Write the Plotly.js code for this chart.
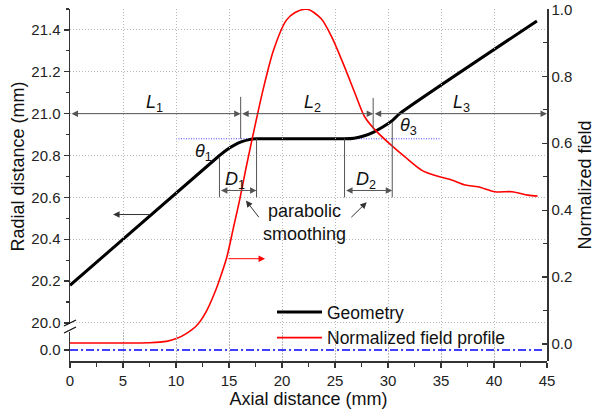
<!DOCTYPE html>
<html>
<head>
<meta charset="utf-8">
<script src="https://cdn.plot.ly/plotly-3.0.1.min.js"></script>
<style>
  html, body { margin: 0; padding: 0; background: #fff; }
  #chart { width: 595px; height: 412px; }
</style>
</head>
<body>
<div id="chart"></div>
<script>
// ---- data ----
const geomX = [0, 14.1, 14.8, 15.5, 16.2, 16.9, 17.6, 25.9, 26.8, 27.7, 28.6, 29.5, 30.4, 31.1, 44.05];
const geomR = [20.18, 20.80, 20.828, 20.850, 20.866, 20.876, 20.880, 20.880, 20.883, 20.893, 20.911, 20.936, 20.967, 21.0, 21.443];

const fieldX = [0, 5, 7.5, 9.1, 10.1, 11.0, 12.0, 12.9, 13.8, 14.3, 14.8, 15.4, 16.0, 16.6, 17.2, 18.2, 19.2, 20.4, 21.2, 22.4,
                23.7, 24.7, 25.9, 26.9, 27.8, 28.8, 30.3, 31.6, 33.2, 34.4, 36.0, 37.3, 38.5, 40.1, 41.7, 43.2, 44.1];
const fieldY = [0.003, 0.003, 0.004, 0.008, 0.017, 0.032, 0.057, 0.10, 0.165, 0.21, 0.26, 0.345, 0.43, 0.525, 0.615, 0.758, 0.878, 0.967, 0.99, 1.0,
                0.972, 0.917, 0.828, 0.748, 0.679, 0.639, 0.594, 0.559, 0.519, 0.504, 0.49, 0.475, 0.47, 0.455, 0.455, 0.445, 0.442];

const refLevelX = [10, 35];
const refLevelR = [20.88, 20.88];
const axisLineX = [0, 44.8];
const axisLineR = [0, 0];

const xTicks = [0, 5, 10, 15, 20, 25, 30, 35, 40, 45];
const seriesNames = ['Geometry', 'Normalized field profile'];

// ---- styling ----
const FONT = '"Liberation Sans", Arial, Helvetica, sans-serif';
const AX = '#333';
const GRID = '#b8b8b8';
const DIM = '#555';

const traces = [
  { x: refLevelX, y: refLevelR, xaxis: 'x', yaxis: 'y', mode: 'lines', showlegend: false, hoverinfo: 'skip',
    line: { color: '#4444ff', width: 1, dash: '1px,1.5px' } },
  { x: geomX, y: geomR, xaxis: 'x', yaxis: 'y', mode: 'lines', name: seriesNames[0],
    line: { color: '#000', width: 3, shape: 'spline', smoothing: 0.6 } },
  { x: fieldX, y: fieldY, xaxis: 'x', yaxis: 'y2', mode: 'lines', name: seriesNames[1],
    line: { color: '#ff0000', width: 1.6, shape: 'spline', smoothing: 0.8 } },
  { x: axisLineX, y: axisLineR, xaxis: 'x', yaxis: 'y3', mode: 'lines', showlegend: false, hoverinfo: 'skip',
    line: { color: '#0000ff', width: 1.5, dash: '8px,3px,2px,3px' } }
];

function dimArrow(x0, y0, x1, y1, both, color) {
  return {
    x: x1, y: y1, ax: x0, ay: y0, xref: 'x', yref: 'y', axref: 'x', ayref: 'y',
    text: '', showarrow: true, arrowhead: 2, startarrowhead: 2, arrowsize: 1.3, startarrowsize: 1.3,
    arrowwidth: 1, arrowcolor: color || DIM, arrowside: both ? 'end+start' : 'end',
    standoff: 0, startstandoff: 0
  };
}
function label(x, y, text, size) {
  return { x: x, y: y, xref: 'x', yref: 'y', text: text, showarrow: false,
           font: { family: FONT, size: size || 18, color: '#111' }, xanchor: 'center', yanchor: 'middle' };
}
function vline(x, y0, y1) {
  return { type: 'line', xref: 'x', yref: 'y', x0: x, x1: x, y0: y0, y1: y1,
           line: { color: DIM, width: 1 } };
}
const pxX = p => (p - 70) / 477;
const pxY = p => (361 - p) / 352;
function slash(cy) {
  return { type: 'line', xref: 'paper', yref: 'paper', x0: pxX(64), x1: pxX(76), y0: pxY(cy + 3), y1: pxY(cy - 3),
           line: { color: '#111', width: 1.3 } };
}

const annotations = [
  dimArrow(0, 21.0, 16.1, 21.0, true),
  dimArrow(16.1, 21.0, 28.6, 21.0, true),
  dimArrow(28.6, 21.0, 45, 21.0, true),
  dimArrow(14.1, 20.633, 17.6, 20.633, true),
  dimArrow(25.9, 20.633, 30.4, 20.633, true),
  dimArrow(17.92, 20.498, 16.6, 20.585, false, '#333'),
  dimArrow(26.4, 20.498, 27.99, 20.577, false, '#333'),
  dimArrow(7.7, 20.518, 4.06, 20.518, false, '#333'),
  dimArrow(14.8, 20.307, 18.4, 20.307, false, '#ff0000'),
  label(8.0, 21.05, '<i>L</i><sub>1</sub>'),
  label(22.9, 21.05, '<i>L</i><sub>2</sub>'),
  label(36.9, 21.05, '<i>L</i><sub>3</sub>'),
  label(12.6, 20.814, '<i>θ</i><sub>1</sub>'),
  label(31.9, 20.939, '<i>θ</i><sub>3</sub>'),
  label(15.6, 20.68, '<i>D</i><sub>1</sub>'),
  label(27.9, 20.68, '<i>D</i><sub>2</sub>'),
  label(22.1, 20.482, 'parabolic<br>smoothing')
];

const shapes = [
  vline(16.1, 20.88, 21.08),
  vline(28.6, 20.925, 21.075),
  vline(14.1, 20.79, 20.60),
  vline(17.6, 20.88, 20.60),
  vline(25.9, 20.88, 20.60),
  vline(30.4, 20.96, 20.60),
  slash(323),
  slash(330)
];

const axBase = {
  showline: true, linecolor: AX, linewidth: 1.5, zeroline: false, tickcolor: AX, tickwidth: 1.2,
  tickfont: { family: FONT, size: 15, color: '#222' }
};

const layout = {
  width: 595, height: 412,
  margin: { l: 70, r: 48, t: 9, b: 51, pad: 0 },
  paper_bgcolor: '#fff', plot_bgcolor: 'rgba(0,0,0,0)',
  font: { family: FONT, size: 15, color: '#222' },
  showlegend: true,
  legend: { x: pxX(272), y: pxY(294), xanchor: 'left', yanchor: 'top', bgcolor: 'rgba(0,0,0,0)',
            font: { family: FONT, size: 17.5, color: '#111' }, itemwidth: 45, tracegroupgap: 0 },
  xaxis: Object.assign({}, axBase, {
    domain: [0, 1], range: [0, 45], anchor: 'y3', tickvals: xTicks, ticktext: xTicks.map(String),
    ticks: 'outside', ticklen: 5,
    minor: { dtick: 2.5, tick0: 0, ticks: 'outside', ticklen: 4, tickcolor: AX, showgrid: false },
    showgrid: true, gridcolor: GRID, gridwidth: 1, griddash: '1px,2px',
    title: { text: 'Axial distance (mm)', font: { family: FONT, size: 18, color: '#111' }, standoff: 5 }
  }),
  xaxis2: Object.assign({}, axBase, {
    overlaying: 'x', side: 'top', anchor: 'y', range: [0, 45], tick0: 0, dtick: 2.5,
    ticks: 'inside', ticklen: 4, showticklabels: false, showgrid: false
  }),
  yaxis: Object.assign({}, axBase, {
    domain: [pxY(324), 1], range: [19.995, 21.5], anchor: 'x', side: 'left',
    tick0: 20, dtick: 0.2, tickformat: '.1f', ticks: 'outside', ticklen: 5,
    minor: { dtick: 0.1, tick0: 20, ticks: 'outside', ticklen: 3, tickcolor: AX, showgrid: false },
    showgrid: true, gridcolor: GRID, gridwidth: 1, griddash: '1px,2px',
    title: { text: 'Radial distance (mm)', font: { family: FONT, size: 18, color: '#111' }, standoff: 2 }
  }),
  yaxis2: Object.assign({}, axBase, {
    domain: [0, 1], range: [-0.0507, 1.001], anchor: 'x', side: 'right',
    tick0: 0, dtick: 0.2, tickformat: '.1f', ticks: 'inside', ticklen: 5,
    minor: { dtick: 0.1, tick0: 0, ticks: 'inside', ticklen: 4, tickcolor: AX, showgrid: false },
    showgrid: false,
    title: { text: 'Normalized field', font: { family: FONT, size: 18, color: '#111' }, standoff: 10 }
  }),
  yaxis3: Object.assign({}, axBase, {
    domain: [0, pxY(332)], range: [-0.0526, 0.086], anchor: 'x', side: 'left',
    tickvals: [0], ticktext: ['0.0'], ticks: 'outside', ticklen: 5, showgrid: false
  }),
  annotations: annotations,
  shapes: shapes
};

Plotly.newPlot('chart', traces, layout, { staticPlot: true, displayModeBar: false });
</script>
</body>
</html>
